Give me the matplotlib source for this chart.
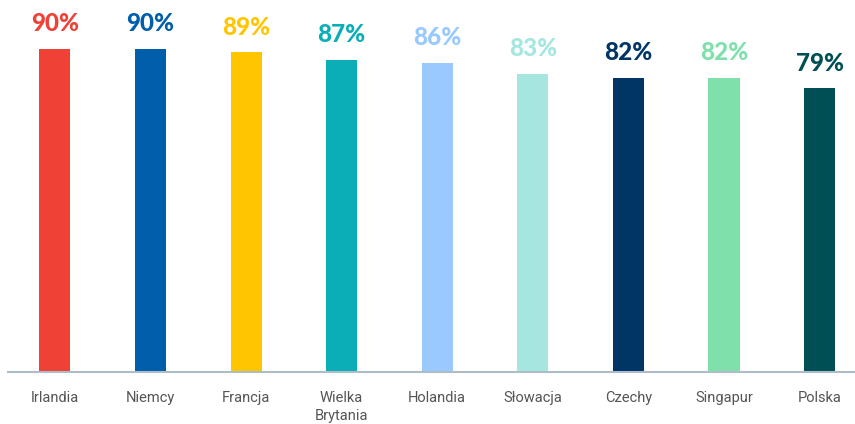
import matplotlib
matplotlib.use("Agg")
import matplotlib.pyplot as plt

categories = ["Irlandia", "Niemcy", "Francja", "Wielka\nBrytania", "Holandia",
              "Słowacja", "Czechy", "Singapur", "Polska"]
values = [90, 90, 89, 87, 86, 83, 82, 82, 79]
colors = ["#EF4136", "#005EAB", "#FFC600", "#0BAEB7", "#99C9FF",
          "#A5E6E1", "#003566", "#7FE0AC", "#004F55"]

fig = plt.figure(figsize=(8.55, 4.24), dpi=100)
ax = fig.add_axes([8/855, 1-372/424, 847/855, (372-13)/424])

x = list(range(len(categories)))
ax.bar(x, values, width=0.325, color=colors, zorder=2)
for xi, v, c in zip(x, values, colors):
    ax.annotate(f"{v}%", (xi, v), xytext=(0, 10), textcoords="offset points",
                ha="center", va="bottom", color=c, fontsize=17.5,
                fontweight=900, family=["Lato", "DejaVu Sans"])

ax.set_xlim(-0.49, 8.37)
ax.set_ylim(0, 100)
ax.set_xticks(x)
ax.set_xticklabels(categories, fontsize=10.5, color="#555555",
                   family=["Roboto", "DejaVu Sans"], linespacing=1.35)
ax.tick_params(axis="x", length=0, pad=14)
ax.set_yticks([])
for s in ["top", "right", "left"]:
    ax.spines[s].set_visible(False)
ax.spines["bottom"].set_color("#AEBCC8")
ax.spines["bottom"].set_linewidth(1.5)

fig.savefig("out.png", dpi=100)
